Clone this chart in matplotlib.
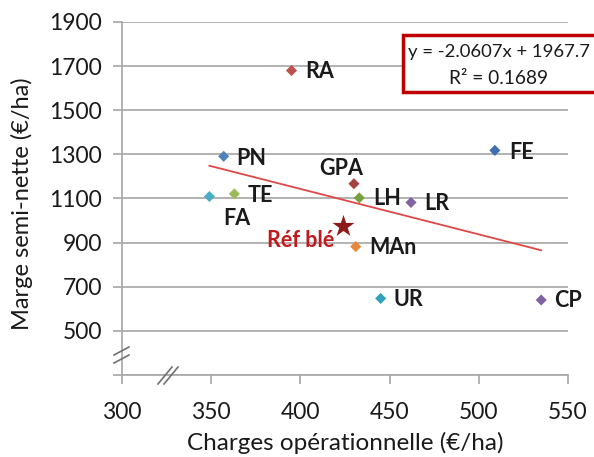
import matplotlib
matplotlib.use('Agg')
import matplotlib.pyplot as plt
import numpy as np
from matplotlib.lines import Line2D
from matplotlib.patches import Rectangle

plt.rcParams['font.family'] = ['Lato', 'DejaVu Sans']

# données
labels = ['RA', 'PN', 'FE', 'GPA', 'FA', 'TE', 'LH', 'LR', 'MAn', 'UR', 'CP']
charges = [395, 357, 509, 430, 349, 363, 433, 462, 431, 445, 535]
marges = [1680, 1291, 1318, 1167, 1109, 1121, 1103, 1082, 882, 647, 640]
colors = ['#C0504D', '#4F81BD', '#3F6FAF', '#A8423F', '#4BACC6', '#9BBB59',
          '#77A03F', '#8064A2', '#E8883A', '#31A0BC', '#8064A2']
ref_charge = 424
ref_marge = 977
slope = -2.0607
intercept = 1967.7
r2 = 0.1689

# décalage des étiquettes (pixels) et alignement
offsets = {'RA': (14, -1, 'left'), 'PN': (13, -2, 'left'), 'FE': (14, -2, 'left'),
           'GPA': (-13, 15, 'center'), 'FA': (14, -22, 'left'), 'TE': (13, -2, 'left'),
           'LH': (14, -1, 'left'), 'LR': (13, -1, 'left'), 'MAn': (14, -1, 'left'),
           'UR': (13, -1, 'left'), 'CP': (13, -1, 'left')}

fig = plt.figure(figsize=(5.94, 4.57), dpi=100)
ax = fig.add_axes([122 / 594, 1 - 375 / 457, (568 - 122) / 594, (375 - 22) / 457])

grey = '#A6A6A6'
ax.set_xlim(300, 550)
ax.set_ylim(300, 1900)
yticks = list(range(300, 2000, 200))
ax.set_yticks(yticks)
ax.set_yticklabels([''] + [str(v) for v in yticks[1:]])
ax.set_xticks(range(300, 600, 50))
ax.yaxis.grid(True, color=grey, lw=1.2)
ax.set_axisbelow(True)
for s in ['top', 'right']:
    ax.spines[s].set_visible(False)
for s in ['left', 'bottom']:
    ax.spines[s].set_color(grey)
    ax.spines[s].set_linewidth(1.2)
ax.tick_params(axis='both', colors=grey, length=6.5, width=1.2, labelsize=16.5,
               labelcolor='#1a1a1a')
ax.tick_params(axis='x', pad=13)
ax.tick_params(axis='y', pad=8)

# ligne de tendance
xs = np.array([min(charges), max(charges)])
ax.plot(xs, slope * xs + intercept, color='#E04848', lw=1.3, zorder=2)

ax.scatter(charges, marges, marker='D', s=32, c=colors, zorder=3, linewidths=0)
ax.scatter([ref_charge], [ref_marge], marker='*', s=280, c='#8E1B1B', zorder=3, linewidths=0)

for lab, x, y in zip(labels, charges, marges):
    dx, dy, ha = offsets[lab]
    ax.annotate(lab, (x, y), xytext=(dx, dy), textcoords='offset pixels',
                ha=ha, va='center', fontsize=15.5, fontweight='bold', color='#1a1a1a')
ax.annotate('Réf blé', (ref_charge, ref_marge), xytext=(-9, -15), textcoords='offset pixels',
            ha='right', va='center', fontsize=15.5, fontweight='bold', color='#C0181C')

ax.set_xlabel('Charges opérationnelle (€/ha)', fontsize=17.5, color='#1a1a1a', va='center')
ax.set_ylabel('Marge semi-nette (€/ha)', fontsize=17, color='#1a1a1a', va='center')
ax.xaxis.set_label_coords(0.5, (375 - 443) / 353)
ax.yaxis.set_label_coords((22 - 122) / 446, (375 - 204) / 353)

# marques de rupture d'axe
def px(x, y):
    return x / 594, 1 - y / 457

for y0 in (355, 363):
    fig.add_artist(Line2D([px(114, y0)[0], px(129, y0 - 8)[0]],
                          [px(114, y0)[1], px(129, y0 - 8)[1]], color='#707070', lw=1.2))
for x0 in (158, 164):
    fig.add_artist(Line2D([px(x0, 384)[0], px(x0 + 14, 367)[0]],
                          [px(x0, 384)[1], px(x0 + 14, 367)[1]], color='#707070', lw=1.2))

# encadré équation
fig.add_artist(Rectangle(px(403, 92), 200 / 594, 57 / 457, transform=fig.transFigure,
                         fill=True, facecolor='white', edgecolor='#C00000', lw=2.5, zorder=5))
fig.text(499 / 594, 1 - 52 / 457, f'y = {slope}x + {intercept}', ha='center', va='center',
         fontsize=13.3, color='#1a1a1a', zorder=6)
fig.text(499 / 594, 1 - 78 / 457, f'R² = {r2}', ha='center', va='center',
         fontsize=13.8, color='#1a1a1a', zorder=6)

fig.savefig('out.png', dpi=100)
